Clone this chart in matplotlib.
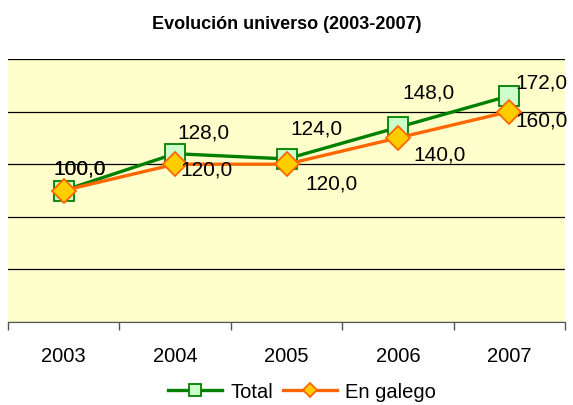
import matplotlib.pyplot as plt
import numpy as np

plt.rcParams['font.family'] = ['Liberation Sans', 'DejaVu Sans']

years = ['2003', '2004', '2005', '2006', '2007']
total = [100.0, 128.0, 124.0, 148.0, 172.0]
galego = [100.0, 120.0, 120.0, 140.0, 160.0]

# label offsets in pixels (layout only)
total_off = [(16, 22), (28, 22), (30, 31), (31, 35), (32, 14)]
galego_off = [(16, 22), (31, -5), (45, -19), (42, -16), (32, -8)]

fig = plt.figure(figsize=(5.73, 4.06), dpi=100)
ax = fig.add_axes([8 / 573, 83 / 406, 557 / 573, 263 / 406])
ax.set_facecolor('#FFFFCC')

x = np.arange(len(years))
ax.plot(x, total, color='#008000', lw=2.4, marker='s', ms=15,
        mfc='#CCFFCC', mec='#008000', mew=1.3, label='Total', zorder=3)
ax.plot(x, galego, color='#FF6600', lw=2.4, marker='D', ms=12,
        mfc='#FFCC00', mec='#FF6600', mew=1.3, label='En galego', zorder=4)

def fmt(v):
    return f'{v:.1f}'.replace('.', ',')

for i in range(len(years)):
    ax.annotate(fmt(total[i]), (x[i], total[i]), xytext=total_off[i],
                textcoords='offset pixels', ha='center', va='center',
                fontsize=15, zorder=5)
    ax.annotate(fmt(galego[i]), (x[i], galego[i]), xytext=galego_off[i],
                textcoords='offset pixels', ha='center', va='center',
                fontsize=15, zorder=5)

ax.set_xlim(-0.5, len(years) - 0.5)
ax.set_ylim(0, 200)
ax.set_yticks(np.arange(0, 201, 40))
ax.yaxis.grid(True, color='black', lw=0.9)
ax.set_axisbelow(True)
ax.tick_params(axis='y', left=False, labelleft=False)

ax.set_xticks(x)
ax.set_xticklabels(years, fontsize=14.5)
ax.set_xticks(np.arange(-0.5, len(years)), minor=True)
ax.tick_params(axis='x', which='major', length=0, pad=17)
ax.tick_params(axis='x', which='minor', length=6, width=1, color='#555555')

for s in ['left', 'right', 'top']:
    ax.spines[s].set_visible(False)
ax.spines['bottom'].set_color('#555555')

ax.set_title('Evolución universo (2003-2007)', fontsize=13, fontweight='bold', pad=22)

fig.legend(loc='center', bbox_to_anchor=(302 / 573, 1 - 393 / 406), ncol=2, frameon=False,
           fontsize=14.5, handlelength=2.7, columnspacing=0.5, handletextpad=0.4,
           markerscale=0.62)

fig.savefig('out.png', dpi=100)
